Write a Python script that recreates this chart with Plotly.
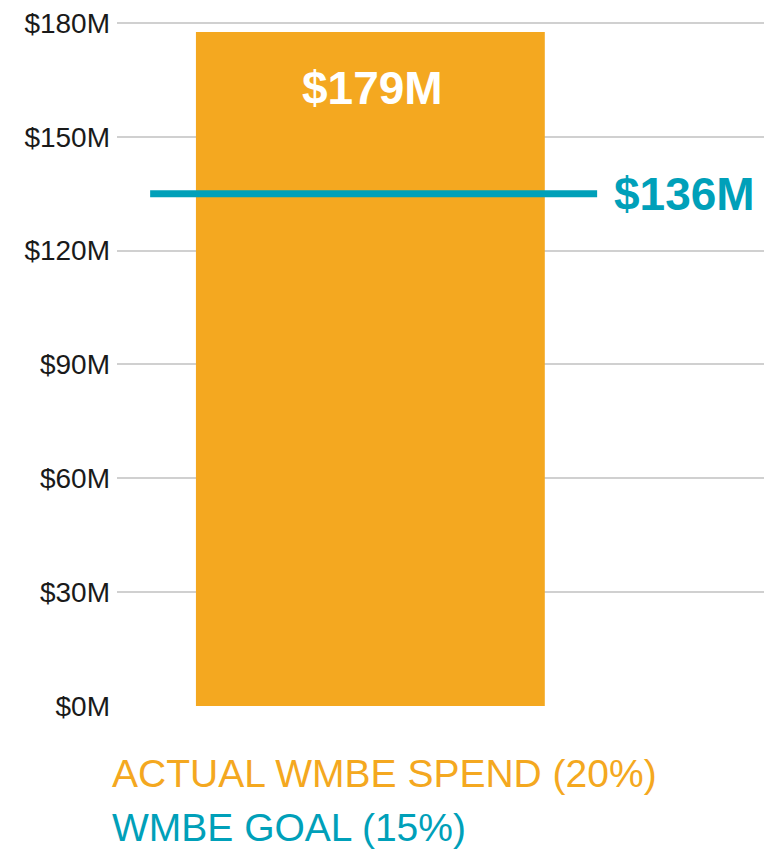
import plotly.graph_objects as go

categories = ["ACTUAL WMBE SPEND"]
actual_values = [177.6]          # $M, bar height as drawn
actual_labels = ["$179M"]
goal_value = 135.0               # $M, goal line as drawn
goal_label = "$136M"
legend_texts = ["ACTUAL WMBE SPEND (20%)", "WMBE GOAL (15%)"]
tick_vals = [0, 30, 60, 90, 120, 150, 180]
tick_text = ["$0M", "$30M", "$60M", "$90M", "$120M", "$150M", "$180M"]

ORANGE = "#F4A820"
TEAL = "#00A0B9"
FONT = "Liberation Sans, Arial, sans-serif"

fig = go.Figure()
fig.add_trace(go.Bar(
    x=[0], y=actual_values, width=0.8,
    marker=dict(color=ORANGE, line=dict(width=0)),
    hoverinfo="skip", showlegend=False,
))
fig.add_trace(go.Scatter(
    x=[-0.505, 0.52], y=[goal_value, goal_value], mode="lines",
    line=dict(color=TEAL, width=7), hoverinfo="skip", showlegend=False,
))

fig.add_annotation(x=0, y=actual_values[0], xref="x", yref="y",
                   text=actual_labels[0], showarrow=False,
                   yanchor="middle", xanchor="center", yshift=-56, xshift=2,
                   font=dict(family=FONT, size=46, color="white", weight="bold"))
fig.add_annotation(x=0.553, y=goal_value, xref="x", yref="y",
                   text=goal_label, showarrow=False,
                   xanchor="left", yanchor="middle",
                   font=dict(family=FONT, size=46, color=TEAL, weight="bold"))

fig.add_annotation(x=-0.0107, y=-0.098, xref="paper", yref="paper",
                   text=legend_texts[0], showarrow=False,
                   xanchor="left", yanchor="middle",
                   font=dict(family=FONT, size=39, color=ORANGE))
fig.add_annotation(x=-0.0107, y=-0.177, xref="paper", yref="paper",
                   text=legend_texts[1], showarrow=False,
                   xanchor="left", yanchor="middle",
                   font=dict(family=FONT, size=39, color=TEAL))

fig.update_layout(
    width=764, height=842,
    margin=dict(l=109, r=0, t=13, b=144, pad=0),
    plot_bgcolor="white", paper_bgcolor="white",
    xaxis=dict(range=[-0.581, 0.921], showgrid=False, zeroline=False,
               showticklabels=False, showline=False, fixedrange=True),
    yaxis=dict(range=[0, 180.5], tickvals=tick_vals, ticktext=tick_text,
               showgrid=True, gridcolor="#D0D0D0", gridwidth=1.5,
               zeroline=False, showline=False, ticks="",
               ticklabelstandoff=6, ticklabeloverflow="allow",
               tickfont=dict(family=FONT, size=28, color="#1a1a1a")),
    showlegend=False,
)

fig.write_html("out.html")
